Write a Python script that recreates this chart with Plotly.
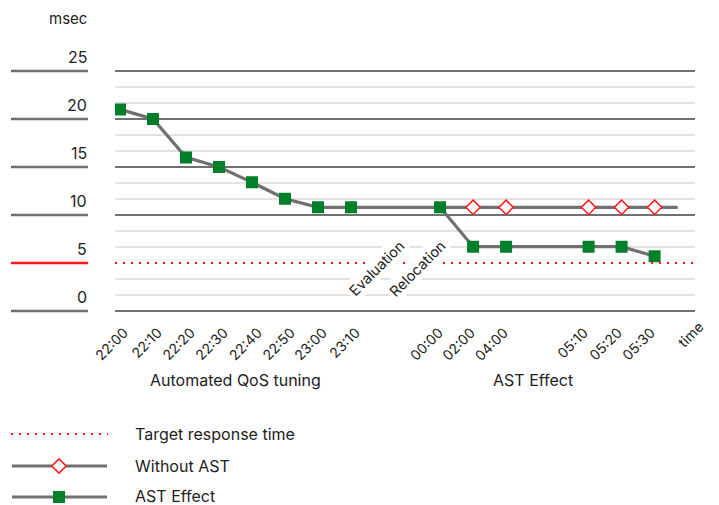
import plotly.graph_objects as go

# ---------------- data ----------------
time_labels = ["22:00", "22:10", "22:20", "22:30", "22:40", "22:50", "23:00", "23:10",
               "00:00", "02:00", "04:00", "05:10", "05:20", "05:30"]
time_label_pos = [0.12, 1.15, 2.15, 3.15, 4.18, 5.18, 6.15, 7.15,
                  9.67, 10.64, 11.64, 14.06, 15.09, 16.09]
axis_title = "time"

ast_x = [0, 1, 2, 3, 4, 5, 6, 7, 9.7, 10.7, 11.7, 14.2, 15.2, 16.2]
ast_values = [21.0, 20.0, 16.0, 15.0, 13.4, 11.7, 10.8, 10.8, 10.8, 6.7, 6.7, 6.7, 6.7, 5.7]

without_x = [9.7, 10.7, 11.7, 14.2, 15.2, 16.2, 16.9]
without_values = [10.8, 10.8, 10.8, 10.8, 10.8, 10.8, 10.8]
without_marked = [False, True, True, True, True, True, False]

target_value = 5

y_tick_values = [25, 20, 15, 10, 5, 0]
y_tick_labels = ["25", "20", "15", "10", "5", "0"]
y_unit = "msec"

phase_labels = ["Automated QoS tuning", "AST Effect"]
phase_centers = [3.5, 12.5]
step_labels = ["Evaluation", "Relocation"]

legend_labels = ["Target response time", "Without AST", "AST Effect"]

# ---------------- style ----------------
OFF = 8                      # page body margin
SW, SH = 719, 505            # screen size
W, H = SW - OFF, SH - OFF    # figure size
FONT = "Inter, Lato, 'Noto Sans', sans-serif"
TXT = "#222222"
GRAY = "#707070"
LIGHT = "#e2e2e2"
RED = "#ff1a1a"
GREEN = "#007f2a"

PX_L, PX_R = 115, 695          # plot area in screen pixels
PX_T, PX_B = 66.2, 315.8


def px(x):
    return (x - OFF) / W


def py(y):
    return 1 - (y - OFF) / H


fig = go.Figure()

# Without AST
fig.add_trace(go.Scatter(
    x=without_x, y=without_values, mode="lines+markers",
    line=dict(color=GRAY, width=3.2),
    marker=dict(symbol="diamond", size=[11 if m else 0 for m in without_marked],
                color="white", opacity=1, line=dict(color=RED, width=1.5)),
    showlegend=False, hoverinfo="skip"))

# AST Effect
fig.add_trace(go.Scatter(
    x=ast_x, y=ast_values, mode="lines+markers",
    line=dict(color=GRAY, width=3.2),
    marker=dict(symbol="square", size=12, color=GREEN, opacity=1, line=dict(width=0)),
    showlegend=False, hoverinfo="skip"))

# legend samples on an auxiliary screen-pixel axis pair
LEG_TOP = 404
leg_y = [434, 466, 497]
leg_text_y = [434, 465.5, 495.5]
fig.add_trace(go.Scatter(x=[11, 108], y=[leg_y[0]] * 2, mode="lines",
                         line=dict(color=RED, width=2, dash="2px,6px"),
                         xaxis="x2", yaxis="y2", showlegend=False, hoverinfo="skip"))
fig.add_trace(go.Scatter(x=[12, 59, 107], y=[leg_y[1]] * 3, mode="lines+markers",
                         line=dict(color=GRAY, width=3),
                         marker=dict(symbol="diamond", size=[0, 11, 0], color="white",
                                     opacity=1, line=dict(color=RED, width=1.5)),
                         xaxis="x2", yaxis="y2", showlegend=False, hoverinfo="skip"))
fig.add_trace(go.Scatter(x=[12, 59, 107], y=[leg_y[2]] * 3, mode="lines+markers",
                         line=dict(color=GRAY, width=3),
                         marker=dict(symbol="square", size=[0, 12, 0], color=GREEN,
                                     opacity=1, line=dict(width=0)),
                         xaxis="x2", yaxis="y2", showlegend=False, hoverinfo="skip"))

shapes = []
annotations = []

# target response line across plot
shapes.append(dict(type="line", xref="paper", yref="y", x0=px(PX_L), x1=px(697),
                   y0=target_value, y1=target_value,
                   line=dict(color=RED, width=2, dash="2px,6px"), layer="above"))

# left-side y labels with short rules
for v, lab in zip(y_tick_values, y_tick_labels):
    col = RED if v == target_value else GRAY
    shapes.append(dict(type="line", xref="paper", yref="y", x0=px(11), x1=px(88),
                       y0=v, y1=v, line=dict(color=col, width=2.6)))
    annotations.append(dict(text=lab, xref="paper", yref="y", x=px(89), y=v,
                            xanchor="right", yanchor="middle", yshift=14,
                            showarrow=False, font=dict(size=16, color=TXT, family=FONT)))
annotations.append(dict(text=y_unit, xref="paper", yref="paper", x=px(89), y=py(18),
                        xanchor="right", yanchor="middle", showarrow=False,
                        font=dict(size=15, color=TXT, family=FONT)))

# axis title "time", rotated like the tick labels
annotations.append(dict(text=axis_title, xref="paper", yref="paper", x=px(690), y=py(334),
                        xanchor="center", yanchor="middle", showarrow=False,
                        textangle=-45, font=dict(size=14, color=TXT, family=FONT)))

# phase labels
for lab, c in zip(phase_labels, phase_centers):
    annotations.append(dict(text=lab, xref="x", yref="paper", x=c, y=py(380),
                            xanchor="center", yanchor="middle", showarrow=False,
                            font=dict(size=16, color=TXT, family=FONT)))

# rotated step labels with white boxes
for lab, cx in zip(step_labels, [376, 417]):
    annotations.append(dict(text=lab, xref="paper", yref="paper", x=px(cx), y=py(268),
                            xanchor="center", yanchor="middle", showarrow=False,
                            textangle=-45, bgcolor="white", borderpad=2,
                            font=dict(size=14.5, color=TXT, family=FONT)))

# legend texts
for lab, yy in zip(legend_labels, leg_text_y):
    annotations.append(dict(text=lab, xref="paper", yref="paper", x=px(133), y=py(yy),
                            xanchor="left", yanchor="middle", showarrow=False,
                            font=dict(size=16, color=TXT, family=FONT)))

unit_px = 33.0
x0 = 0 - (120 - PX_L) / unit_px
x1 = x0 + (PX_R - PX_L) / unit_px
y_px_per = 9.6
y0 = -(PX_B - 311) / y_px_per
y1 = 25 + (71 - PX_T) / y_px_per

major = [0, 10, 15, 20, 25]
minor = [k * 5 / 3 for k in range(16) if k % 3 != 0]

fig.update_layout(
    width=W, height=H, margin=dict(l=0, r=0, t=0, b=0),
    paper_bgcolor="white", plot_bgcolor="rgba(0,0,0,0)",
    font=dict(family=FONT, color=TXT),
    xaxis=dict(domain=[px(PX_L), px(PX_R)], range=[x0, x1], showgrid=False,
               zeroline=False, showline=False, ticks="", tickmode="array",
               tickvals=time_label_pos, ticktext=time_labels, tickangle=-45,
               ticklabelstandoff=5,
               tickfont=dict(size=14, color=TXT, family=FONT), automargin=False),
    yaxis=dict(domain=[py(PX_B), py(PX_T)], range=[y0, y1], tickmode="array",
               tickvals=major, showticklabels=False, ticks="", zeroline=False,
               showline=False, gridcolor=GRAY, gridwidth=2.4, automargin=False,
               minor=dict(tickmode="array", tickvals=minor, showgrid=True,
                          gridcolor=LIGHT, gridwidth=2, ticks="")),
    xaxis2=dict(domain=[0, 1], range=[OFF, SW], visible=False, fixedrange=True),
    yaxis2=dict(domain=[0, py(LEG_TOP)], range=[SH, LEG_TOP], visible=False,
                fixedrange=True),
    shapes=shapes, annotations=annotations, showlegend=False,
)

fig.write_html("out.html")
